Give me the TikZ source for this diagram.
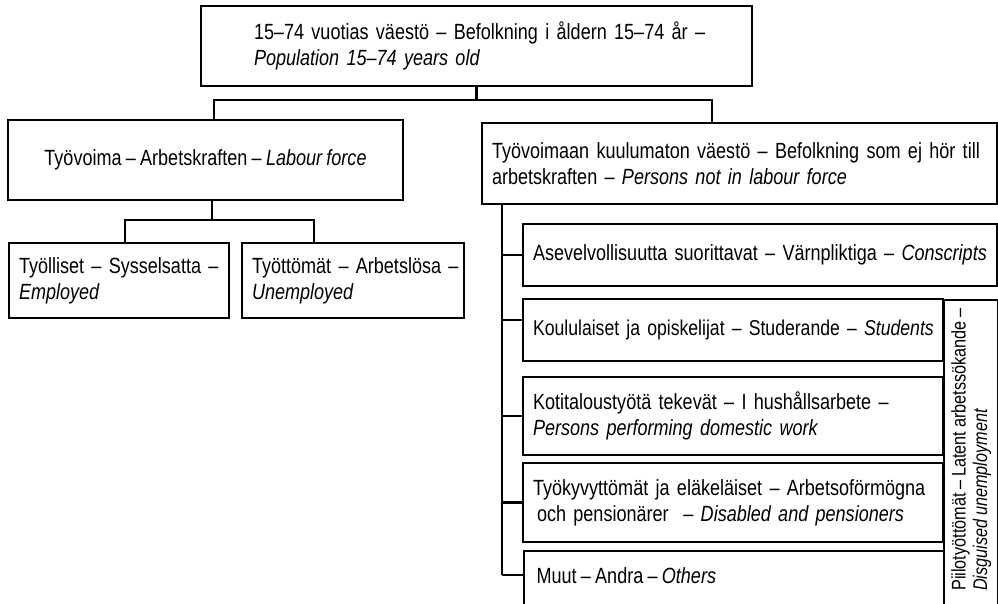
\documentclass[tikz,border=0pt]{standalone}
\usepackage{fontspec}
\setmainfont{Liberation Sans}[FakeStretch=0.82,WordSpace=0.85]
\usetikzlibrary{calc}

\begin{document}
\begin{tikzpicture}[x=1pt,y=-1pt,
  box/.style={draw,line width=2.2pt,inner xsep=10pt,inner ysep=0pt,
    font=\fontsize{22}{26}\selectfont},
  lbox/.style={box,align=left,text width=#1},
  link/.style={line width=2.2pt}]
\useasboundingbox (0,0) rectangle (998,603);
\clip (0,0) rectangle (998,603);

% top level
\node[lbox=445,inner xsep=53pt,minimum height=80] (pop) at (476.5,46)
  {\mbox{15–74 vuotias väestö – Befolkning i åldern 15–74 år –}\\
   \mbox{\textit{Population 15–74 years old}}};

% labour force
\node[box,minimum width=395,minimum height=80] (lab) at (205.5,160)
  {Työvoima – Arbetskraften – \textit{Labour force}};
\node[lbox=200,minimum height=75] (emp) at (119,280.5)
  {\mbox{Työlliset – Sysselsatta –}\\ \textit{Employed}};
\node[lbox=202,minimum height=75] (unemp) at (353,280.5)
  {\mbox{Työttömät – Arbetslösa –}\\ \textit{Unemployed}};

% not in labour force
\node[lbox=495,minimum height=81] (notlab) at (739.5,163.5)
  {\mbox{Työvoimaan kuulumaton väestö – Befolkning som ej hör till}\\
   \mbox{arbetskraften – \textit{Persons not in labour force}}};
\node[lbox=454,minimum height=62] (consc) at (760,255)
  {\mbox{Asevelvollisuutta suorittavat – Värnpliktiga – \textit{Conscripts}}};
\node[lbox=400,minimum height=62,font=\fontsize{21.5}{26}\selectfont] (stud) at (733,330)
  {\mbox{Koululaiset ja opiskelijat – Studerande – \textit{Students}}};
\node[lbox=400,minimum height=78] (dom) at (733,416)
  {\mbox{Kotitaloustyötä tekevät – I hushållsarbete –}\\
   \mbox{\textit{Persons performing domestic work}}};
\node[lbox=400,minimum height=79] (dis) at (733,502.5)
  {\mbox{Työkyvyttömät ja eläkeläiset – Arbetsoförmögna}\\
   \mbox{\hspace*{4pt}och pensionärer \ – \textit{Disabled and pensioners}}};
\node[box,minimum width=420,minimum height=64,anchor=north west] (muut) at (523,550) {};
\node[anchor=base west,font=\fontsize{22}{26}\selectfont] (muuttxt)
  at ($(muut.north west)+(10,33)$) {Muut – Andra – \textit{Others}};

% latent column
\node[draw,line width=2.2pt,minimum width=54,minimum height=320,anchor=north west]
  (latent) at (943,299) {};
\node[rotate=90,anchor=north west,align=left,inner sep=3pt,
  font=\fontsize{19.8}{21.5}\selectfont] (latenttxt) at (948,594)
  {Piilotyöttömät – Latent arbetssökande –\\ \textit{Disguised unemployment}};

% connectors
\coordinate (busA) at (214,100);
\coordinate (busB) at (712,100);
\coordinate (busC) at (212,220);
\coordinate (busD) at (125,220);
\coordinate (busE) at (314,220);
\coordinate (spine) at (502,575);
\draw[link] (pop.south) -- (pop.south |- busA);
\draw[link] (lab.north -| busA) -- (busA) -- (busB) -- (notlab.north -| busB);
\draw[link] (lab.south -| busC) -- (busC);
\draw[link] (emp.north -| busD) -- (busD) -- (busE) -- (unemp.north -| busE);
\draw[link] (notlab.south -| spine) -- (spine);
\foreach \n in {consc,dom,dis}
  \draw[link] (\n.west -| spine) -- (\n.west);
\draw[link] ($(stud.west)+(0,-10)$) -- ($(stud.west -| spine)+(0,-10)$);
\draw[link] (spine) -- (spine -| muut.west);
\end{tikzpicture}
\end{document}
